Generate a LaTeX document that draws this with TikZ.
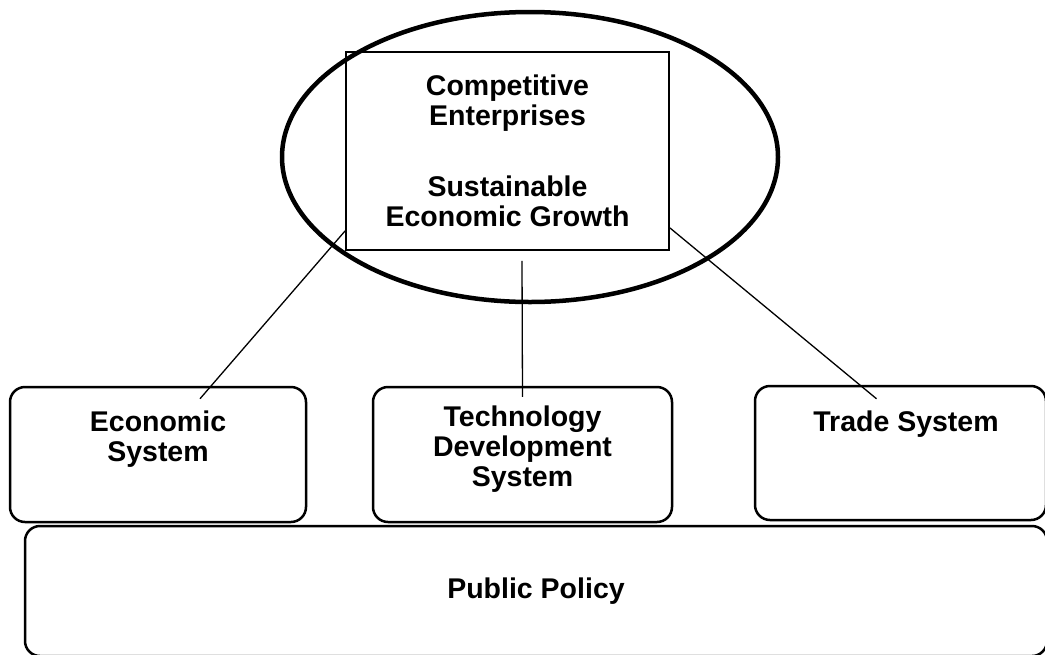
\documentclass[tikz,border=0pt]{standalone}
\usepackage{fontspec}
\setmainfont{Liberation Sans}
\usetikzlibrary{shapes.geometric}
\begin{document}
\begin{tikzpicture}[x=1pt,y=-1pt,
    sysbox/.style={draw, line width=2.5pt, rounded corners=15pt},
    lbl/.style={font=\bfseries\fontsize{28.5}{30}\selectfont, align=center, inner sep=0pt},
    link/.style={line width=1.3pt}]
    \useasboundingbox(0,0)rectangle(1045,654);
    \clip(0,0)rectangle(1045,654);

    \node[draw, ellipse, line width=4.5pt, minimum width=496pt, minimum height=290pt](oval)at(530,157){};
    \node[draw, line width=1.8pt, minimum width=323pt, minimum height=198pt, lbl](goal)at(507.5,151)
        {Competitive\\Enterprises\\[41pt]Sustainable\\Economic Growth};

    \node[sysbox, minimum width=296pt, minimum height=135pt](econ)at(158,454.5){};
    \node[sysbox, minimum width=299pt, minimum height=135pt](tech)at(522.5,454.5){};
    \node[sysbox, minimum width=291pt, minimum height=134pt](trade)at(900.5,453){};
    \node[sysbox, minimum width=1022pt, minimum height=130pt, lbl](policy)at(536,591){Public Policy};

    \node[lbl, anchor=north](econtxt)at(158,411){Economic\\System};
    \node[lbl, anchor=north](techtxt)at(522.5,406){Technology\\Development\\System};
    \node[lbl, anchor=north](tradetxt)at(906,411){Trade System};

    \draw[link]([yshift=20pt]goal.south west)--([xshift=42pt,yshift=-13pt]econ.north);
    \draw[link]([xshift=14.5pt,yshift=-10pt]goal.south)--([yshift=-11pt]tech.north);
    \draw[link]([yshift=23pt]goal.south east)--([xshift=-24pt,yshift=-14pt]trade.north);
\end{tikzpicture}
\end{document}
